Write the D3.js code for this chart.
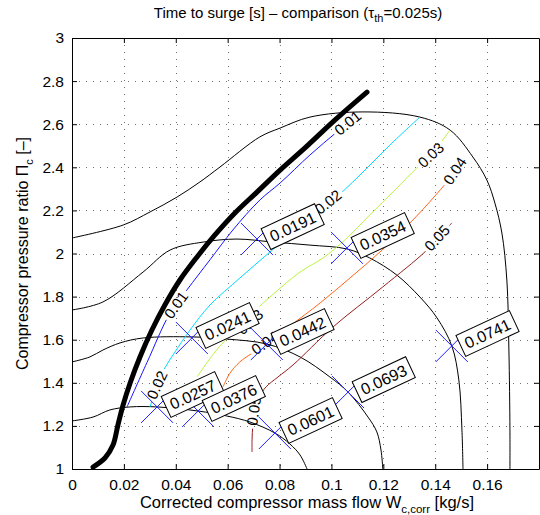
<!DOCTYPE html>
<html>
<head>
<meta charset="utf-8">
<script src="https://cdn.jsdelivr.net/npm/d3@7"></script>
<style>
  body { margin: 0; background: #fff; }
  svg { font-family: "Liberation Sans", Arial, Helvetica, sans-serif; }
</style>
</head>
<body>
<svg id="chart" width="540" height="515"></svg>
<script>
// ---- data ----
const xTicks = [0, 0.02, 0.04, 0.06, 0.08, 0.1, 0.12, 0.14, 0.16];
const xTickLabels = ['0', '0.02', '0.04', '0.06', '0.08', '0.1', '0.12', '0.14', '0.16'];
const yTicks = [1, 1.2, 1.4, 1.6, 1.8, 2, 2.2, 2.4, 2.6, 2.8, 3];
const yTickLabels = ['1', '1.2', '1.4', '1.6', '1.8', '2', '2.2', '2.4', '2.6', '2.8', '3'];

// compressor speed lines (thin black)
const speedLine1 = [[0, 2.072], [0.0197, 2.132], [0.0301, 2.193], [0.0405, 2.262], [0.0493, 2.332], [0.057, 2.401],
  [0.0724, 2.541], [0.0802, 2.582], [0.0917, 2.633], [0.1121, 2.657], [0.1341, 2.633], [0.1457, 2.573],
  [0.1545, 2.448], [0.1599, 2.341], [0.163, 2.234], [0.1657, 2.095], [0.1676, 1.877], [0.1684, 1.552],
  [0.1688, 1.181], [0.1688, 1.0]];
const speedLine2 = [[0, 1.738], [0.0119, 1.775], [0.0274, 1.914], [0.0378, 2.016], [0.0505, 2.053], [0.0636, 2.067],
  [0.0775, 2.053], [0.0917, 2.039], [0.106, 2.021], [0.1148, 1.979], [0.1252, 1.9], [0.1341, 1.798],
  [0.1407, 1.701], [0.1464, 1.571], [0.1491, 1.413], [0.1503, 1.181], [0.1507, 1.0]];
const speedLine3 = [[0, 1.497], [0.0069, 1.52], [0.0119, 1.552], [0.0185, 1.585], [0.0274, 1.608], [0.0462, 1.613],
  [0.0597, 1.603], [0.0751, 1.58], [0.0879, 1.52], [0.0994, 1.427], [0.1064, 1.357], [0.1141, 1.241],
  [0.1175, 1.172], [0.1191, 1.088], [0.1198, 1.0]];
const speedLine4 = [[0, 1.223], [0.0081, 1.241], [0.0146, 1.274], [0.0224, 1.288], [0.0328, 1.288], [0.0486, 1.269],
  [0.0597, 1.246], [0.0686, 1.218], [0.0782, 1.167], [0.084, 1.116], [0.0879, 1.065], [0.0906, 1.0]];

// surge line (thick black)
const surgeLine = [[0.0081, 1.009], [0.0127, 1.051], [0.0158, 1.111], [0.0177, 1.204], [0.0197, 1.297], [0.0224, 1.399],
  [0.0262, 1.52], [0.0308, 1.645], [0.0358, 1.761], [0.0416, 1.877], [0.0482, 1.984], [0.0551, 2.086],
  [0.0628, 2.188], [0.0713, 2.285], [0.0802, 2.387], [0.0898, 2.49], [0.1013, 2.619], [0.1137, 2.749]];

// time-to-surge contours
const contour001 = [[0.0212, 1.288], [0.0289, 1.494], [0.0378, 1.724], [0.0443, 1.831], [0.0532, 1.971], [0.062, 2.109],
  [0.0724, 2.248], [0.0802, 2.327], [0.0917, 2.457], [0.1021, 2.564], [0.111, 2.652]];
const contour002 = [[0.0301, 1.288], [0.0328, 1.39], [0.0358, 1.469], [0.0397, 1.543], [0.0455, 1.645], [0.0532, 1.761],
  [0.0647, 1.886], [0.0763, 2.007], [0.0879, 2.123], [0.0994, 2.234], [0.111, 2.364], [0.1225, 2.503], [0.1341, 2.633]];
const contour003 = [[0.0482, 1.427], [0.0551, 1.543], [0.0647, 1.668], [0.0763, 1.798], [0.0879, 1.914], [0.0967, 1.979],
  [0.1052, 2.063], [0.1148, 2.179], [0.1245, 2.295], [0.1329, 2.397], [0.1383, 2.457], [0.1457, 2.573]];
const contour004 = [[0.0582, 1.381], [0.0609, 1.445], [0.0647, 1.497], [0.0713, 1.552], [0.0763, 1.594], [0.084, 1.664],
  [0.0956, 1.77], [0.1071, 1.886], [0.1187, 2.007], [0.1303, 2.142], [0.1399, 2.267], [0.1476, 2.378], [0.1514, 2.448]];
const contour005 = [[0.0694, 1.079], [0.0694, 1.135], [0.0697, 1.204], [0.0705, 1.274], [0.0721, 1.334], [0.0748, 1.381],
  [0.0794, 1.427], [0.0852, 1.483], [0.1006, 1.659], [0.1198, 1.845], [0.1368, 2.016], [0.1464, 2.142]];
const contourLines = [contour001, contour002, contour003, contour004, contour005];
const contourLevels = ['0.01', '0.02', '0.03', '0.04', '0.05'];
const contourColors = ['#1414ff', '#00d8ff', '#b8f43a', '#ff6418', '#9a1c1c'];

// inline contour labels: [level index, x, y]
const contourLabels = [[0, 0.1063, 2.606], [0, 0.0401, 1.761], [1, 0.0987, 2.239], [1, 0.0328, 1.39],
  [2, 0.1383, 2.457], [2, 0.0686, 1.682], [3, 0.1476, 2.383], [3, 0.0744, 1.585],
  [4, 0.1407, 2.072], [4, 0.0701, 1.269]];

// time-to-surge markers with boxed values
const markerX = [0.0713, 0.106, 0.0462, 0.0751, 0.0328, 0.0486, 0.0782, 0.1064, 0.1464];
const markerY = [2.067, 2.026, 1.608, 1.58, 1.288, 1.269, 1.167, 1.357, 1.571];
const markerText = ['0.0191', '0.0354', '0.0241', '0.0442', '0.0257', '0.0376', '0.0601', '0.0693', '0.0741'];

// ---- drawing ----
const svg = d3.select('#chart');
const plotL = 72, plotR = 539, plotT = 38, plotB = 469;
const x = d3.scaleLinear().domain([0, 0.18]).range([plotL, plotR]);
const y = d3.scaleLinear().domain([1, 3]).range([plotB, plotT]);
const line = d3.line().x(d => x(d[0])).y(d => y(d[1])).curve(d3.curveCatmullRom.alpha(0.5));

// dotted grid
const grid = svg.append('g').attr('stroke', '#000').attr('stroke-width', 1)
  .attr('stroke-dasharray', '1,6').attr('opacity', 0.55);
grid.selectAll('.gx').data(xTicks.slice(1)).join('line').attr('class', 'gx')
  .attr('x1', d => Math.round(x(d)) + 0.5).attr('x2', d => Math.round(x(d)) + 0.5)
  .attr('y1', plotT).attr('y2', plotB);
grid.selectAll('.gy').data(yTicks.slice(1, -1)).join('line').attr('class', 'gy')
  .attr('y1', d => Math.round(y(d)) + 0.5).attr('y2', d => Math.round(y(d)) + 0.5)
  .attr('x1', plotL).attr('x2', plotR);

// speed lines
svg.append('g').selectAll('path').data([speedLine1, speedLine2, speedLine3, speedLine4]).join('path')
  .attr('d', line).attr('fill', 'none').attr('stroke', '#000').attr('stroke-width', 1);

// contour lines, with gaps masked out where the inline labels sit
const mask = svg.append('defs').append('mask').attr('id', 'labelgaps')
  .attr('maskUnits', 'userSpaceOnUse').attr('x', 0).attr('y', 0).attr('width', 540).attr('height', 515);
mask.append('rect').attr('width', 540).attr('height', 515).attr('fill', '#fff');

const contourG = svg.append('g').attr('mask', 'url(#labelgaps)');
contourG.selectAll('path').data(contourLines).join('path')
  .attr('d', line).attr('fill', 'none').attr('stroke-width', 1)
  .attr('stroke', (d, i) => contourColors[i]);

function localAngle(pts, px, py) {
  let best = Infinity, ang = 0;
  for (let k = 0; k < pts.length - 1; k++) {
    const ax = x(pts[k][0]), ay = y(pts[k][1]), bx = x(pts[k + 1][0]), by = y(pts[k + 1][1]);
    const mx = (ax + bx) / 2, my = (ay + by) / 2;
    const dist = (mx - px) ** 2 + (my - py) ** 2;
    if (dist < best) { best = dist; ang = Math.atan2(by - ay, bx - ax) * 180 / Math.PI; }
  }
  return ang;
}

const labelG = svg.append('g').attr('font-size', 15);
contourLabels.forEach(c => {
  const px = x(c[1]), py = y(c[2]);
  const ang = localAngle(contourLines[c[0]], px, py);
  const t = labelG.append('text').attr('transform', `translate(${px},${py}) rotate(${ang})`)
    .attr('text-anchor', 'middle').attr('dy', '0.35em').text(contourLevels[c[0]]);
  const w = t.node().getComputedTextLength() + 6;
  mask.append('rect').attr('x', -w / 2).attr('y', -6).attr('width', w).attr('height', 12)
    .attr('fill', '#000').attr('transform', `translate(${px},${py}) rotate(${ang})`);
});

// surge line
svg.append('path').datum(surgeLine).attr('d', line).attr('fill', 'none')
  .attr('stroke', '#000').attr('stroke-width', 5).attr('stroke-linecap', 'round');

// markers
svg.append('g').selectAll('path').data(markerX).join('path')
  .attr('transform', (d, i) => `translate(${x(d)},${y(markerY[i])})`)
  .attr('d', 'M-16,-16L16,16M-16,16L16,-16').attr('stroke', '#1f1fff').attr('stroke-width', 1);

// boxed values
const boxes = svg.append('g').selectAll('g').data(markerX).join('g')
  .attr('transform', (d, i) => `translate(${x(d) + 9},${y(markerY[i])}) rotate(-25)`);
boxes.each(function (d, i) {
  const g = d3.select(this);
  const r = g.append('rect');
  const t = g.append('text').attr('x', 5).attr('dy', '0.36em').attr('font-size', 16).text(markerText[i]);
  const w = t.node().getComputedTextLength() + 10;
  r.attr('x', 0).attr('y', -11.5).attr('width', w).attr('height', 23)
    .attr('fill', '#fff').attr('stroke', '#000').attr('stroke-width', 1);
});

// axes (ticks inside on all four sides)
const fmtX = (d, i) => xTickLabels[i];
const fmtY = (d, i) => yTickLabels[i];
const axB = svg.append('g').attr('transform', `translate(0,${plotB})`)
  .call(d3.axisBottom(x).tickValues(xTicks).tickFormat(fmtX).tickSize(-5).tickSizeOuter(0).tickPadding(10));
const axL = svg.append('g').attr('transform', `translate(${plotL},0)`)
  .call(d3.axisLeft(y).tickValues(yTicks).tickFormat(fmtY).tickSize(-5).tickSizeOuter(0).tickPadding(8));
svg.append('g').attr('transform', `translate(0,${plotT})`)
  .call(d3.axisTop(x).tickValues(xTicks).tickFormat('').tickSize(-5).tickSizeOuter(0));
svg.append('g').attr('transform', `translate(${plotR},0)`)
  .call(d3.axisRight(y).tickValues(yTicks).tickFormat('').tickSize(-5).tickSizeOuter(0));
svg.selectAll('.domain').attr('stroke', '#000');
svg.selectAll('.tick line').attr('stroke', '#000');
[axB, axL].forEach(a => a.attr('font-family', null).attr('font-size', 15.5)
  .selectAll('text').attr('fill', '#000'));

// titles
const title = svg.append('text').attr('x', 298).attr('y', 18)
  .attr('text-anchor', 'middle').attr('font-size', 15);
title.append('tspan').text('Time to surge [s] \u2013 comparison (\u03c4');
title.append('tspan').attr('font-size', 11).attr('dy', 4).text('th');
title.append('tspan').attr('dy', -4).text('=0.025s)');

const xlab = svg.append('text').attr('x', 307).attr('y', 508)
  .attr('text-anchor', 'middle').attr('font-size', 16.5);
xlab.append('tspan').text('Corrected compressor mass flow W');
xlab.append('tspan').attr('font-size', 11.5).attr('dy', 5).text('c,corr');
xlab.append('tspan').attr('dy', -5).text(' [kg/s]');

const ylab = svg.append('text').attr('transform', `translate(28,${(plotT + plotB) / 2}) rotate(-90)`)
  .attr('text-anchor', 'middle').attr('font-size', 16);
ylab.append('tspan').text('Compressor pressure ratio \u03a0');
ylab.append('tspan').attr('font-size', 11).attr('dy', 5).text('c');
ylab.append('tspan').attr('dy', -5).text(' [\u2013]');
</script>
</body>
</html>
